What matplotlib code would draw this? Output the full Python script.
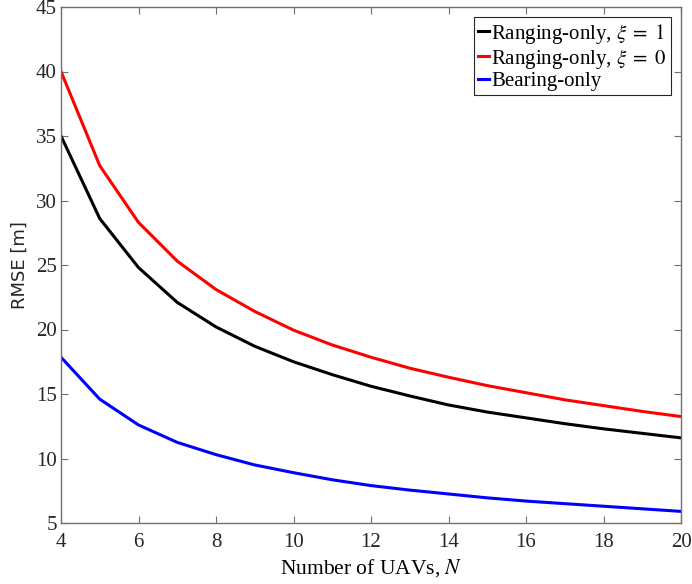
import matplotlib
matplotlib.use("Agg")
import matplotlib.pyplot as plt

N = [4, 5, 6, 7, 8, 9, 10, 11, 12, 13, 14, 15, 16, 17, 18, 19, 20]
ranging_xi1 = [35.0, 28.6, 24.8, 22.1, 20.2, 18.7, 17.5, 16.5, 15.6, 14.85, 14.15,
               13.6, 13.15, 12.7, 12.3, 11.95, 11.6]
ranging_xi0 = [40.0, 32.7, 28.3, 25.3, 23.1, 21.4, 19.95, 18.8, 17.85, 17.0, 16.3,
               15.65, 15.1, 14.55, 14.1, 13.65, 13.25]
bearing_only = [17.85, 14.6, 12.6, 11.25, 10.3, 9.5, 8.9, 8.35, 7.9, 7.55, 7.25,
                6.95, 6.7, 6.5, 6.3, 6.1, 5.9]
labels = [r'Ranging-only, $\xi\;=\;1$', r'Ranging-only, $\xi\;=\;0$', 'Bearing-only']
xticks = [4, 6, 8, 10, 12, 14, 16, 18, 20]
yticks = [5, 10, 15, 20, 25, 30, 35, 40, 45]

plt.rcParams['font.family'] = ['Liberation Serif', 'DejaVu Serif']
plt.rcParams['mathtext.fontset'] = 'stix'

fig = plt.figure(figsize=(6.92, 5.84), dpi=100)
ax = fig.add_axes([61/692, 1-523/584, 620/692, 516/584])

ax.plot(N, ranging_xi1, color='black', lw=2.2, label=labels[0])
ax.plot(N, ranging_xi0, color='#ff0000', lw=2.2, label=labels[1])
ax.plot(N, bearing_only, color='#0000ff', lw=2.2, label=labels[2])

ax.set_xlim(4, 20)
ax.set_ylim(5, 45)
ax.set_xticks(xticks)
ax.set_yticks(yticks)
spine_c = '#707070'
for s in ax.spines.values():
    s.set_color(spine_c)
    s.set_linewidth(1.0)
ax.tick_params(direction='in', top=True, right=True, length=5, width=0.8,
               color=spine_c, labelsize=15, labelcolor='#262626', pad=3)
ax.tick_params(axis='x', pad=7)
ax.set_xlabel('Number of UAVs, $N$', fontsize=15.5, labelpad=4)
ax.set_ylabel('RMSE [m]', fontsize=13, family='DejaVu Sans', color='#262626', labelpad=5)

leg = ax.legend(loc='upper right', fontsize=15, handlelength=0.5, handletextpad=0.12,
                borderaxespad=0.5, borderpad=0.2, labelspacing=0.05, fancybox=False,
                framealpha=1, edgecolor='#262626')
leg.get_frame().set_linewidth(0.8)

fig.savefig('out.png', dpi=100)
